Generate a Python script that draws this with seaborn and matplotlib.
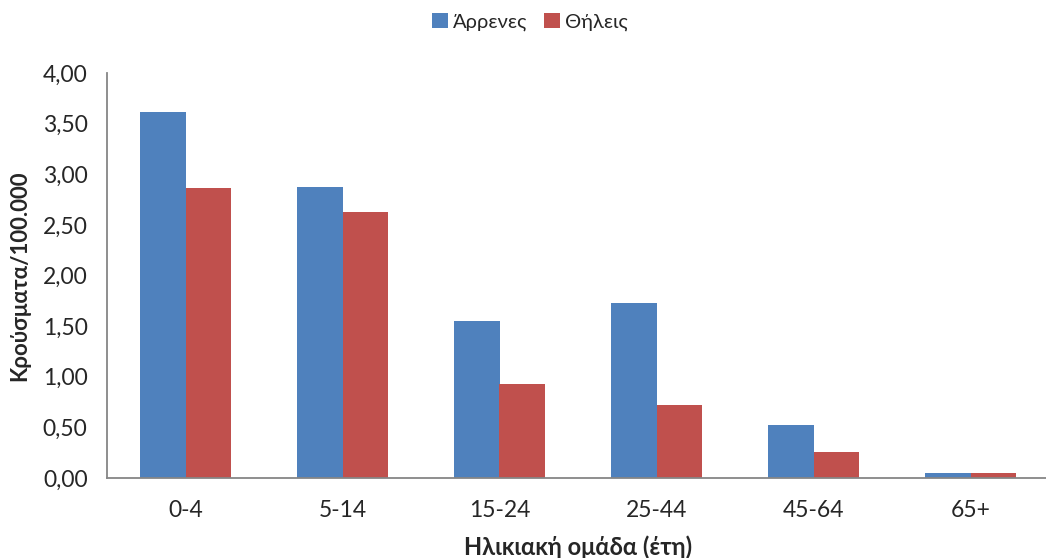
import matplotlib
matplotlib.use("Agg")
import matplotlib.pyplot as plt
import seaborn as sns
import pandas as pd
from matplotlib.ticker import FixedLocator, FuncFormatter

categories = ["0-4", "5-14", "15-24", "25-44", "45-64", "65+"]
series_names = ["Άρρενες", "Θήλεις"]
males = [3.61, 2.87, 1.55, 1.73, 0.52, 0.05]
females = [2.86, 2.63, 0.93, 0.72, 0.26, 0.05]
y_ticks = [0.0, 0.5, 1.0, 1.5, 2.0, 2.5, 3.0, 3.5, 4.0]
colors = ["#4F81BD", "#C0504D"]

df = pd.DataFrame({
    "group": categories * 2,
    "value": males + females,
    "sex": [series_names[0]] * len(categories) + [series_names[1]] * len(categories),
})

sns.set_style("white")
plt.rcParams["font.family"] = ["Lato", "DejaVu Sans"]

fig = plt.figure(figsize=(10.46, 5.58), dpi=100)
ax = fig.add_axes([107 / 1046, 80 / 558, 942 / 1046, 405 / 558])

sns.barplot(data=df, x="group", y="value", hue="sex", order=categories,
            hue_order=series_names, palette=colors, width=0.575,
            saturation=1, ax=ax, legend=True, linewidth=0)

ax.set_xlim(-0.5, len(categories) - 0.5)
ax.set_ylim(0, 4.0)
ax.yaxis.set_major_locator(FixedLocator(y_ticks))
ax.yaxis.set_major_formatter(FuncFormatter(lambda v, p: f"{v:.2f}".replace(".", ",")))

# x ticks at category boundaries
ax.set_xticks(range(len(categories)))
ax.set_xticklabels(categories)
ax.tick_params(axis="x", which="major", length=0, labelsize=16.5, pad=16, colors="#262626")
ax.set_xticks([i - 0.5 for i in range(len(categories) + 1)], minor=True)
ax.tick_params(axis="x", which="minor", length=7, width=1.2, color="#868686", direction="out")
ax.tick_params(axis="y", length=5, width=1.2, color="#868686", direction="out", labelsize=16.5,
               pad=9)
for lab in ax.get_yticklabels():
    lab.set_color("#262626")

for side in ["top", "right"]:
    ax.spines[side].set_visible(False)
for side in ["left", "bottom"]:
    ax.spines[side].set_color("#868686")
    ax.spines[side].set_linewidth(1.3)

ax.set_ylabel("Κρούσματα/100.000", fontsize=16, fontweight="bold", labelpad=9, color="#262626")
ax.set_xlabel("Ηλικιακή ομάδα (έτη)", fontsize=17, fontweight="bold", labelpad=10, color="#262626")

handles, labels = ax.get_legend_handles_labels()
ax.legend_.remove()
fig.legend(handles, labels, loc="center", bbox_to_anchor=(530 / 1046, 1 - 22 / 558),
           ncol=2, frameon=False, fontsize=14.5, handlelength=0.8, handleheight=0.8,
           handletextpad=0.25, columnspacing=0.8)

fig.savefig("out.png", dpi=100)
